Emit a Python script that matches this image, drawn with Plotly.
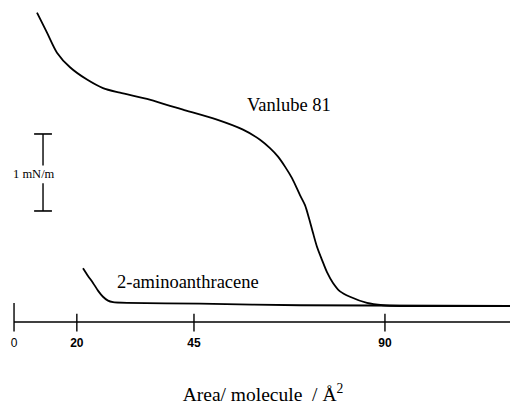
import plotly.graph_objects as go

# Surface pressure isotherms (x: area per molecule in Å², y: surface pressure in mN/m)
vanlube_area = [8.01, 10.37, 12.72, 15.79, 19.79, 23.56, 27.57, 33.93, 39.35, 42.41,
                50.42, 56.55, 60.56, 62.91, 64.80, 66.45, 68.10, 69.98, 71.16, 72.10,
                73.04, 73.98, 75.16, 76.34, 77.76, 79.41, 81.76, 85.77, 89.54, 93.54, 120.64]
vanlube_pressure = [3.81, 3.55, 3.29, 3.10, 2.94, 2.83, 2.77, 2.69, 2.60, 2.55,
                    2.42, 2.29, 2.16, 2.05, 1.94, 1.81, 1.66, 1.44, 1.31, 1.14,
                    0.95, 0.77, 0.60, 0.44, 0.30, 0.19, 0.12, 0.04, 0.01, 0.0, 0.0]

amino_area = [18.85, 20.03, 21.21, 22.38, 23.56, 24.74, 25.92, 29.22, 46.40, 70.00, 120.64]
amino_pressure = [0.49, 0.39, 0.30, 0.20, 0.12, 0.07, 0.05, 0.04, 0.03, 0.01, 0.0]

tick_positions = [2.6, 17.4, 45, 90]
tick_labels = ["0", "<b>20</b>", "<b>45</b>", "<b>90</b>"]

scale_bar_value = 1.0  # mN/m

serif = "Liberation Serif, Times New Roman, serif"
sans = "Liberation Sans, Arial, sans-serif"

fig = go.Figure()
fig.add_trace(go.Scatter(x=vanlube_area, y=vanlube_pressure, mode="lines",
                         line=dict(color="black", width=1.8, shape="spline", smoothing=0.8),
                         hoverinfo="skip", showlegend=False))
fig.add_trace(go.Scatter(x=amino_area, y=amino_pressure, mode="lines",
                         line=dict(color="black", width=1.8, shape="spline", smoothing=0.6),
                         hoverinfo="skip", showlegend=False))

axis_y = -0.208
shapes = []
# axis line
shapes.append(dict(type="line", xref="x", yref="y", x0=2.59, x1=120.64, y0=axis_y, y1=axis_y,
                   line=dict(color="black", width=1.6)))
# ticks crossing the axis
for i, tv in enumerate(tick_positions):
    top = 0.04 if i == 0 else -0.10
    shapes.append(dict(type="line", xref="x", yref="y", x0=tv, x1=tv, y0=top, y1=-0.33,
                       line=dict(color="black", width=1.4)))
# right end tick
shapes.append(dict(type="line", xref="x", yref="y", x0=120.64, x1=120.64, y0=axis_y, y1=-0.36,
                   line=dict(color="black", width=1.2)))

# scale bar (1 mN/m)
sb_x = 9.43
sb_y0 = 1.234
sb_y1 = sb_y0 + scale_bar_value
cap = 2.1
shapes += [
    dict(type="line", xref="x", yref="y", x0=sb_x - cap, x1=sb_x + cap, y0=sb_y1, y1=sb_y1,
         line=dict(color="black", width=1.6)),
    dict(type="line", xref="x", yref="y", x0=sb_x - cap, x1=sb_x + cap, y0=sb_y0, y1=sb_y0,
         line=dict(color="black", width=1.6)),
    dict(type="line", xref="x", yref="y", x0=sb_x, x1=sb_x, y0=sb_y1, y1=sb_y0 + 0.59,
         line=dict(color="black", width=1.4)),
    dict(type="line", xref="x", yref="y", x0=sb_x, x1=sb_x, y0=sb_y0 + 0.36, y1=sb_y0,
         line=dict(color="black", width=1.4)),
]

annotations = [
    dict(x=67.4, y=2.61, xref="x", yref="y", text="Vanlube 81", showarrow=False,
         font=dict(family=serif, size=18.5, color="black")),
    dict(x=43.5, y=0.31, xref="x", yref="y", text="2-aminoanthracene", showarrow=False,
         font=dict(family=serif, size=18.5, color="black")),
    dict(x=7.3, y=1.72, xref="x", yref="y", text="1 mN/m", showarrow=False,
         font=dict(family=serif, size=12.5, color="black")),
]

fig.update_layout(
    width=510, height=397,
    margin=dict(l=0, r=0, t=0, b=71),
    paper_bgcolor="white", plot_bgcolor="white",
    shapes=shapes, annotations=annotations,
    xaxis=dict(range=[1.178, 121.35], showgrid=False, zeroline=False, showline=False,
               ticks="", tickvals=tick_positions, ticktext=tick_labels,
               tickfont=dict(family=sans, size=12, color="black"),
               title=dict(text="Area/ molecule  / Å<sup>2</sup>",
                          font=dict(family=serif, size=19.5, color="black"), standoff=38)),
    yaxis=dict(range=[-0.3636, 3.870], visible=False),
)

fig.write_html("out.html")
